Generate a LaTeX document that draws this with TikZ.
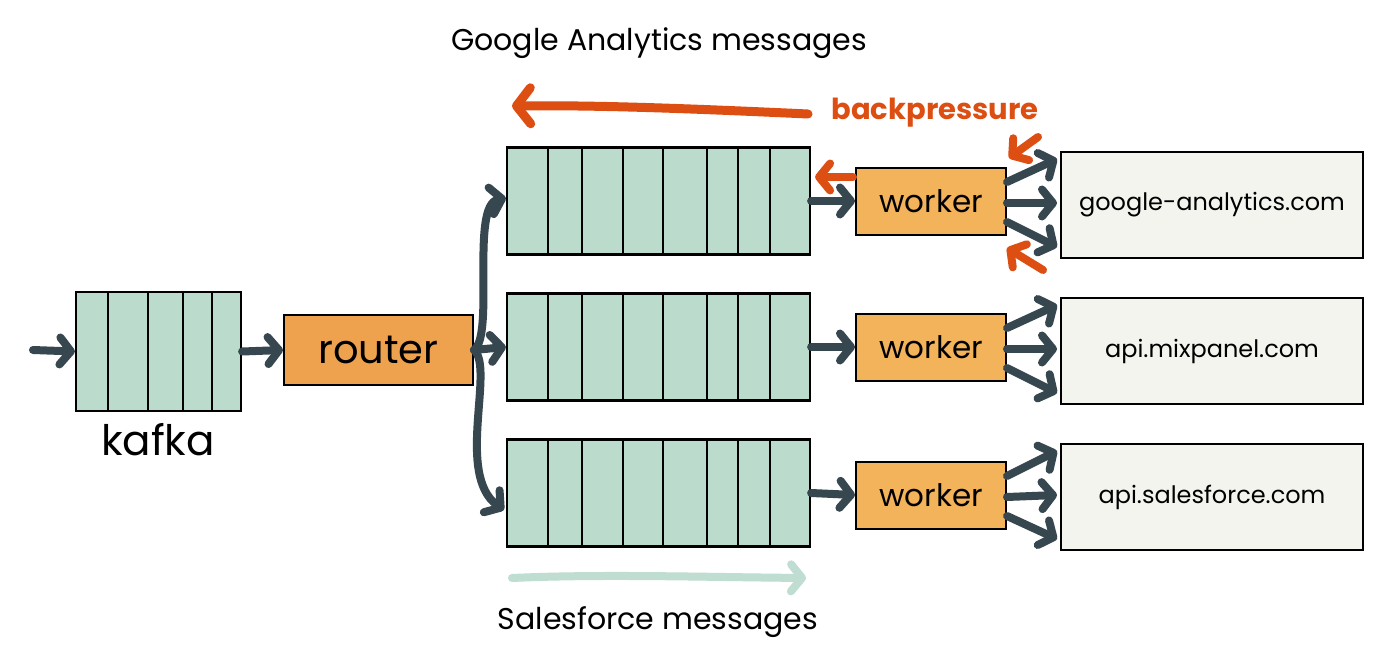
\documentclass[tikz,border=0pt]{standalone}
\usepackage{fontspec}
\setmainfont{Poppins}
\usetikzlibrary{arrows.meta,calc}
\definecolor{qfill}{HTML}{BBDBCC}
\definecolor{wfill}{HTML}{F2B35A}
\definecolor{rfill}{HTML}{EFA24E}
\definecolor{sfill}{HTML}{F4F4EF}
\definecolor{arr}{HTML}{37474F}
\definecolor{bp}{HTML}{DD4E12}
\definecolor{lg}{HTML}{BFDDD0}
\tikzset{
  queue/.style={draw=black,line width=2.2pt,fill=qfill,minimum width=303pt,minimum height=107pt,inner sep=0pt},
  workerbox/.style={draw=black,line width=2pt,fill=wfill,minimum width=150pt,minimum height=67pt,inner sep=0pt,font=\fontsize{31}{33}\selectfont},
  svc/.style={draw=black,line width=2pt,fill=sfill,minimum width=302pt,minimum height=106pt,inner sep=0pt,font=\fontsize{24}{26}\selectfont},
  flow/.style={draw=arr,line width=8pt,line cap=round,-{Straight Barb[round,length=11pt,width=27pt]}},
  bparrow/.style={draw=bp,line width=8pt,line cap=round,-{Straight Barb[round,length=11pt,width=27pt]}},
  divider/.style={draw=black,line width=2.2pt},
  lbl/.style={inner sep=0pt,font=\fontsize{30}{33}\selectfont}
}
\begin{document}
\begin{tikzpicture}[x=1pt,y=-1pt]
\useasboundingbox[fill=white] (0,0) rectangle (1400,666);
% kafka
\node[queue,minimum width=165pt,minimum height=119pt] (kafka) at (158.5,351.5) {};
\foreach \x in {108,148,183,212} \draw[divider] (\x,292) -- (\x,411);
\node[lbl,font=\fontsize{42}{44}\selectfont] (kafkalbl) at (158,440) {kafka};
% router
\node[draw=black,line width=2pt,fill=rfill,minimum width=189pt,minimum height=70pt,inner sep=0pt,font=\fontsize{40}{42}\selectfont] (router) at (378.5,350) {router};
% queues
\foreach \n/\y in {1/201,2/347,3/493}{
  \node[queue] (q\n) at (658.5,\y) {};
  \foreach \x in {548,582,623,663,707,738,770} \draw[divider] (\x,\y-53.5) -- (\x,\y+53.5);
}
% workers
\node[workerbox] (w1) at (931,201) {worker};
\node[workerbox] (w2) at (931,347) {worker};
\node[workerbox] (w3) at (931,495) {worker};
% services
\node[svc] (s1) at (1212,205) {google-analytics.com};
\node[svc] (s2) at (1212,351) {api.mixpanel.com};
\node[svc] (s3) at (1212,497) {api.salesforce.com};
% labels
\node[lbl] (galbl) at (659,43) {Google Analytics messages};
\node[lbl,font=\bfseries\fontsize{29}{32}\selectfont,text=bp] (bplbl) at (935,113) {backpressure};
\node[lbl] (sflbl) at (658,622) {Salesforce messages};
% input
\coordinate (in) at (33,350);
\draw[flow] (in) -- (kafka.west);
\draw[flow] (kafka.east) -- (router.west);
% router to queues
\draw[flow] (router.east) .. controls (495,335) and (470,205) .. ($(q1.west)+(0,-3)$);
\draw[flow] (router.east) -- (q2.west);
\draw[flow] (router.east) .. controls (495,368) and (455,475) .. ($(q3.west)+(-2,17)$);
% queues to workers
\foreach \n in {1,2,3}{
  \draw[flow] (q\n.east) -- (w\n.west);
  \draw[flow] ($(w\n.east)+(0,-19)$) -- ($(s\n.west)+(-3,-46)$);
  \draw[flow] ($(w\n.east)+(0,2)$) -- ($(s\n.west)+(-3,-2)$);
  \draw[flow] ($(w\n.east)+(0,21)$) -- ($(s\n.west)+(-3,42)$);
}
% backpressure
\coordinate (bpA) at (808,114);
\coordinate (bpB) at (512,106);
\draw[bparrow,line width=9pt,-{Straight Barb[round,length=14pt,width=36pt]}] (bpA) .. controls (700,109) and (600,105) .. (bpB);
\draw[bparrow] ($(w1.west)+(-2,-24)$) -- ($(q1.east)+(4,-24)$);
\coordinate (bpC) at (1038,137);
\coordinate (bpD) at (1009,158);
\draw[bparrow] (bpC) -- (bpD);
\coordinate (bpE) at (1043,270);
\coordinate (bpF) at (1007,248);
\draw[bparrow] (bpE) -- (bpF);
% salesforce
\coordinate (sfA) at (512,578);
\coordinate (sfB) at (806,578);
\draw[draw=lg,line width=8pt,line cap=round,-{Straight Barb[round,length=11pt,width=27pt]}] (sfA) .. controls (600,574) and (700,577) .. (sfB);
\end{tikzpicture}
\end{document}
